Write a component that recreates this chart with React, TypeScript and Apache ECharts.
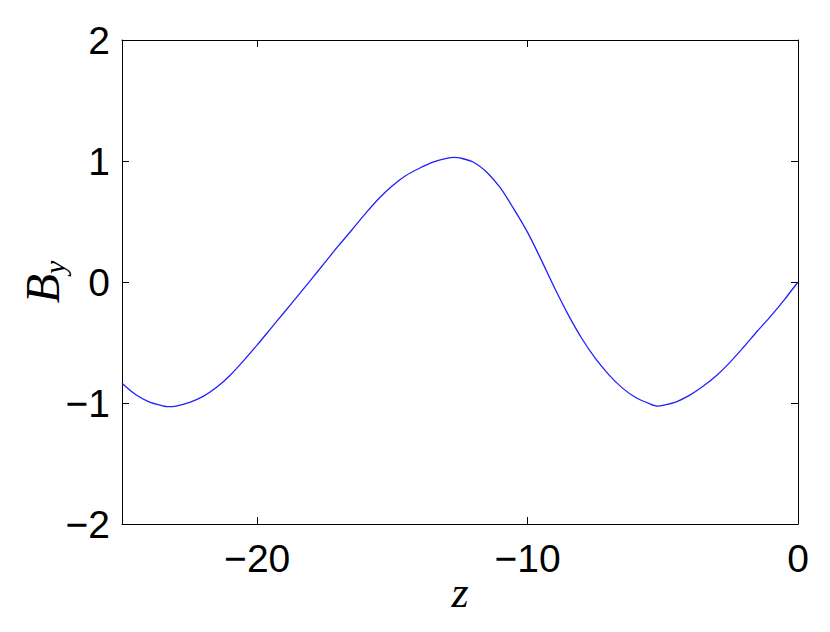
import React, { useEffect, useRef } from "react";
import * as echarts from "echarts";

const zValues = [
  -25, -24.5, -24, -23.5, -23.3, -23, -22.5, -22, -21.5, -21, -20.5, -20, -19.5, -19, -18.5, -18,
  -17.5, -17, -16.5, -16, -15.5, -15, -14.5, -14, -13.5, -13, -12.7, -12.5, -12, -11.5, -11, -10.5,
  -10, -9.5, -9, -8.5, -8, -7.5, -7, -6.5, -6, -5.5, -5.2, -5, -4.5, -4, -3.5, -3, -2.5, -2, -1.5,
  -1, -0.5, 0,
];
const byValues = [
  -0.837, -0.93, -0.99, -1.023, -1.03, -1.025, -0.995, -0.945, -0.87, -0.77, -0.65, -0.52, -0.385,
  -0.25, -0.115, 0.022, 0.16, 0.298, 0.43, 0.565, 0.69, 0.795, 0.88, 0.94, 0.99, 1.022, 1.03, 1.025,
  0.99, 0.905, 0.775, 0.6, 0.41, 0.185, -0.05, -0.27, -0.465, -0.63, -0.765, -0.875, -0.955, -1.005,
  -1.025, -1.02, -0.99, -0.935, -0.86, -0.77, -0.66, -0.535, -0.405, -0.28, -0.145, 0,
];
const xTicks = [-20, -10, 0];
const yTicks = [-2, -1, 0, 1, 2];

const fmt = (v: number) => (v < 0 ? "\u2212" + Math.abs(v) : String(v));

export default function App() {
  const ref = useRef<HTMLDivElement>(null);
  useEffect(() => {
    if (!ref.current) return;
    const chart = echarts.init(ref.current, null, { renderer: "svg" });
    const data = zValues.map((z, i) => [z, byValues[i]]);
    const lineStyle = { color: "#000", width: 1 };
    const tickFont = { fontFamily: "Liberation Sans", fontSize: 39, color: "#000" };
    chart.setOption({
      animation: false,
      backgroundColor: "#fff",
      grid: {
        left: 122,
        right: 32,
        top: 40,
        bottom: 108,
        containLabel: false,
        outerBoundsMode: "none",
      },
      xAxis: [
        {
          type: "value",
          min: -25,
          max: 0,
          position: "bottom",
          axisLine: { show: true, onZero: false, lineStyle },
          axisTick: { show: true, inside: true, length: 7, lineStyle, customValues: xTicks },
          axisLabel: { ...tickFont, margin: 15, formatter: fmt, customValues: xTicks },
          splitLine: { show: false },
          name: "z",
          nameLocation: "middle",
          nameMoveOverlap: false,
          nameGap: 46,
          nameTextStyle: {
            fontFamily: "Liberation Serif",
            fontStyle: "italic",
            fontSize: 44,
            color: "#000",
          },
        },
        {
          type: "value",
          min: -25,
          max: 0,
          position: "top",
          axisLine: { show: true, onZero: false, lineStyle },
          axisTick: { show: true, inside: true, length: 7, lineStyle, customValues: xTicks },
          axisLabel: { show: false },
          splitLine: { show: false },
        },
      ],
      yAxis: [
        {
          type: "value",
          min: -2,
          max: 2,
          interval: 1,
          position: "left",
          axisLine: { show: true, onZero: false, lineStyle },
          axisTick: { show: true, inside: true, length: 7, lineStyle },
          axisLabel: { ...tickFont, margin: 12, formatter: fmt, customValues: yTicks },
          splitLine: { show: false },
          name: "{b|B}{s|y}",
          nameLocation: "middle",
          nameMoveOverlap: false,
          nameGap: 53,
          nameRotate: 90,
          nameTextStyle: {
            color: "#000",
            rich: {
              b: {
                fontFamily: "Liberation Serif",
                fontStyle: "italic",
                fontSize: 48,
                lineHeight: 54,
                color: "#000",
              },
              s: {
                fontFamily: "Liberation Serif",
                fontStyle: "italic",
                fontSize: 30,
                lineHeight: 26,
                verticalAlign: "bottom",
                color: "#000",
              },
            },
          },
        },
        {
          type: "value",
          min: -2,
          max: 2,
          interval: 1,
          position: "right",
          axisLine: { show: true, onZero: false, lineStyle },
          axisTick: { show: true, inside: true, length: 7, lineStyle },
          axisLabel: { show: false },
          splitLine: { show: false },
        },
      ],
      series: [
        {
          type: "line",
          data,
          xAxisIndex: 0,
          yAxisIndex: 0,
          smooth: 0.3,
          showSymbol: false,
          lineStyle: { color: "#2020ff", width: 1.3 },
        },
      ],
    });
    return () => chart.dispose();
  }, []);
  return (
    <div
      ref={ref}
      style={{ position: "fixed", left: 0, top: 0, width: 830, height: 632 }}
    />
  );
}
